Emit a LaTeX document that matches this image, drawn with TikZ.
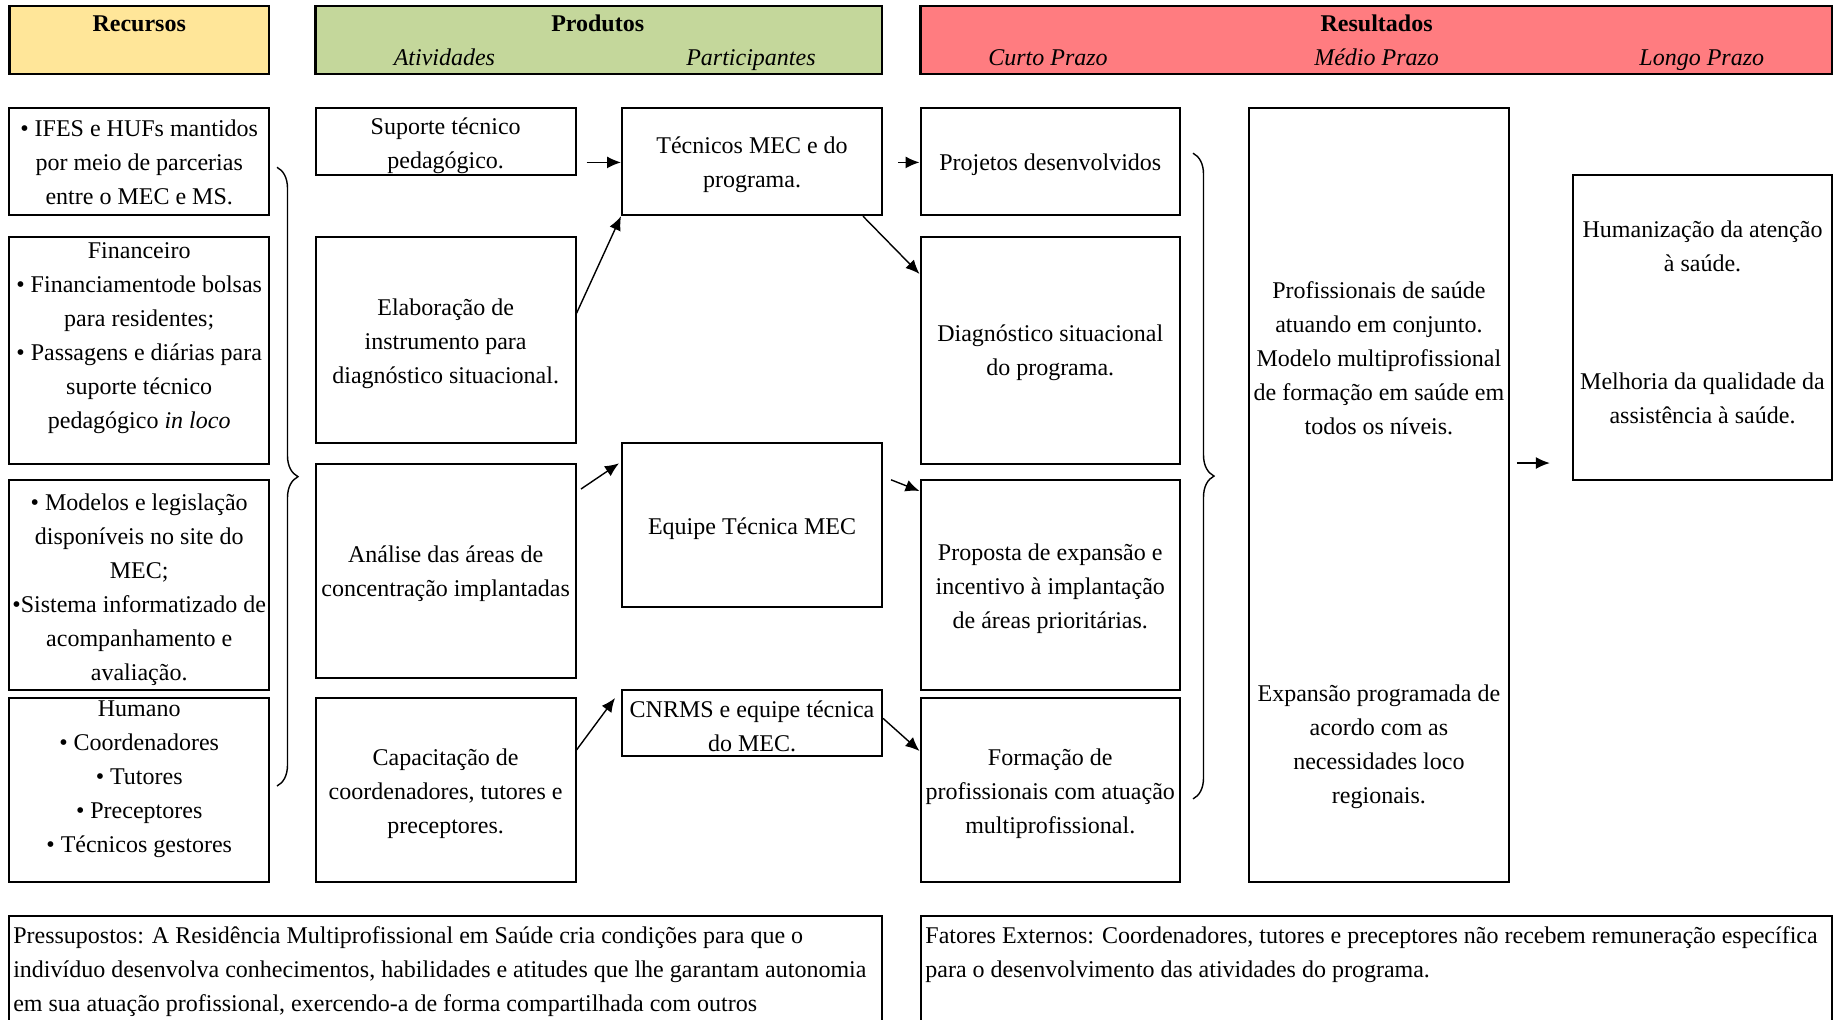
\documentclass[tikz,border=0pt]{standalone}
\usepackage{fontspec}
\setmainfont{Liberation Serif}
\usetikzlibrary{arrows.meta,decorations.pathreplacing,calc}
\definecolor{hdrYellow}{RGB}{255,230,153}
\definecolor{hdrGreen}{RGB}{196,215,155}
\definecolor{hdrRed}{RGB}{255,124,128}
\begin{document}
\begin{tikzpicture}[x=0.5pt,y=-0.5pt,
  fnt/.style={font=\fontsize{12}{17}\selectfont},
  box/.style={draw, line width=1pt, inner sep=0pt},
  hdr/.style={draw, line width=1.4pt},
  txt/.style={fnt, inner sep=0pt, align=center},
  btxt/.style={txt, yshift=-1.15pt},
  htxt/.style={inner sep=0pt, anchor=base},
  wh/.style 2 args={minimum width={(#1)*0.5pt}, minimum height={(#2)*0.5pt}},
  arr/.style={line width=0.7pt, -{Latex[length=7pt,width=6pt]}},
  brc/.style={line width=0.7pt, decorate, decoration={brace, amplitude=10.5pt}}
]
\useasboundingbox (0,0) rectangle (1834,1019);
\clip (0,0) rectangle (1834,1019);
\fill[white] (0,0) rectangle (1834,1019);

% headers
\node[hdr, fill=hdrYellow, wh={259.6}{68}] (hRec) at (139.2,40) {};
\node[hdr, fill=hdrGreen, wh={566.2}{68}] (hProd) at (598.9,40) {};
\node[hdr, fill=hdrRed, wh={911.5}{68}] (hRes) at (1376.25,40) {};
\node[htxt, font=\fontsize{12}{17}\selectfont\bfseries] (tRec) at (139.2,31.5) {Recursos};
\node[htxt, font=\fontsize{12}{17}\selectfont\bfseries] (tProd) at (597.7,31.5) {Produtos};
\node[htxt, font=\fontsize{12}{17}\selectfont\itshape] (tAtiv) at (444.4,65.5) {Atividades};
\node[htxt, font=\fontsize{12}{17}\selectfont\itshape] (tPart) at (750.9,65.5) {Participantes};
\node[htxt, font=\fontsize{12}{17}\selectfont\bfseries] (tRes) at (1376.6,31.5) {Resultados};
\node[htxt, font=\fontsize{12}{17}\selectfont\itshape] (tCurto) at (1048,65.5) {Curto Prazo};
\node[htxt, font=\fontsize{12}{17}\selectfont\itshape] (tMedio) at (1376.6,65.5) {Médio Prazo};
\node[htxt, font=\fontsize{12}{17}\selectfont\itshape] (tLongo) at (1701.8,65.5) {Longo Prazo};

% Recursos
\node[box, wh={259.6}{107.6}] (r1) at (139.2,161.4) {};
\node[txt] (r1t) at (139.2,162.6) {• IFES e HUFs mantidos\\por meio de parcerias\\entre o MEC e MS.};
\node[box, wh={259.6}{226.9}] (r2) at (139.2,350.85) {};
\node[txt, anchor=north] (r2t) at ($(r2.north)+(0,5.9)$) {Financeiro\\• Financiamentode bolsas\\para residentes;\\• Passagens e diárias para\\suporte técnico\\pedagógico \textit{in loco}};
\node[box, wh={259.6}{210.5}] (r3) at (139.2,584.75) {};
\node[btxt] (r3t) at (139.2,587.1) {• Modelos e legislação\\disponíveis no site do\\MEC;\\•Sistema informatizado de\\acompanhamento e\\avaliação.};
\node[box, wh={259.6}{183.7}] (r4) at (139.2,790.05) {};
\node[txt, anchor=north] (r4t) at ($(r4.north)+(0,3.5)$) {Humano\\• Coordenadores\\• Tutores\\• Preceptores\\• Técnicos gestores};

% Atividades
\node[box, wh={259.7}{67.8}] (a1) at (445.65,141.5) {};
\node[btxt] (a1t) at (445.65,143.3) {Suporte técnico\\pedagógico.};
\node[box, wh={259.7}{205.9}] (a2) at (445.65,340.35) {};
\node[btxt] (a2t) at (445.65,341.5) {Elaboração de\\instrumento para\\diagnóstico situacional.};
\node[box, wh={259.7}{214.1}] (a3) at (445.65,571.35) {};
\node[btxt] (a3t) at (445.65,571.4) {Análise das áreas de\\concentração implantadas};
\node[box, wh={259.7}{183.7}] (a4) at (445.65,790.05) {};
\node[btxt] (a4t) at (445.65,791.2) {Capacitação de\\coordenadores, tutores e\\preceptores.};

% Participantes
\node[box, wh={260}{107.6}] (p1) at (752,161.4) {};
\node[btxt] (p1t) at (752,162) {Técnicos MEC e do\\programa.};
\node[box, wh={260}{163.7}] (p2) at (752,525.15) {};
\node[btxt] (p2t) at (752,526.3) {Equipe Técnica MEC};
\node[box, wh={260}{65.6}] (p3) at (752,722.8) {};
\node[txt] (p3t) at (752,726) {CNRMS e equipe técnica\\do MEC.};

% Curto prazo
\node[box, wh={259.5}{107.6}] (c1) at (1050.25,161.4) {};
\node[btxt] (c1t) at (1050.25,162.6) {Projetos desenvolvidos};
\node[box, wh={259.5}{226.9}] (c2) at (1050.25,350.85) {};
\node[btxt] (c2t) at (1050.25,350.3) {Diagnóstico situacional\\do programa.};
\node[box, wh={259.5}{210.5}] (c3) at (1050.25,584.75) {};
\node[btxt] (c3t) at (1050.25,586) {Proposta de expansão e\\incentivo à implantação\\de áreas prioritárias.};
\node[box, wh={259.5}{183.7}] (c4) at (1050.25,790.05) {};
\node[btxt] (c4t) at (1050.25,791.2) {Formação de\\profissionais com atuação\\multiprofissional.};

% Medio prazo
\node[box, wh={259.8}{774.3}] (m) at (1378.9,494.75) {};
\node[txt] (m1) at (1378.9,358.5) {Profissionais de saúde\\atuando em conjunto.\\Modelo multiprofissional\\de formação em saúde em\\todos os níveis.};
\node[txt] (m2) at (1378.9,746.7) {Expansão programada de\\acordo com as\\necessidades loco\\regionais.};

% Longo prazo
\node[box, wh={259}{304.1}] (l) at (1702.5,327.45) {};
\node[txt] (l1) at (1702.5,246.2) {Humanização da atenção\\à saúde.};
\node[txt] (l2) at (1702.5,398.2) {Melhoria da qualidade da\\assistência à saúde.};

% bottom
\node[box, wh={872.6}{228.4}] (pres) at (445.7,1030) {};
\node[txt, align=left, anchor=north west] (prest) at (12.9,926) {Pressupostos: A Residência Multiprofissional em Saúde cria condições para que o\\indivíduo desenvolva conhecimentos, habilidades e atitudes que lhe garantam autonomia\\em sua atuação profissional, exercendo-a de forma compartilhada com outros};
\node[box, wh={911.5}{228.4}] (fat) at (1376.25,1030) {};
\node[txt, align=left, anchor=north west] (fatt) at (925,926) {Fatores Externos: Coordenadores, tutores e preceptores não recebem remuneração específica\\para o desenvolvimento das atividades do programa.};

% arrows
\coordinate (a1o) at ($(a1.east |- p1.west)+(10,1)$);
\draw[arr] (a1o) -- (p1.west |- a1o);
\coordinate (a2o) at ($(a2.east)+(0,-27)$);
\draw[arr] (a2o) -- (p1.south west);
\coordinate (p1o) at ($(p1.east)+(15,1)$);
\draw[arr] (p1o) -- (c1.west |- p1o);
\coordinate (p1s) at ($(p1.south east)+(-20,0)$);
\coordinate (c2i) at ($(c2.north west)+(0,37.5)$);
\draw[arr] (p1s) -- (c2i);
\coordinate (a3o) at ($(a3.north east)+(4.5,25.7)$);
\coordinate (p2i) at ($(p2.north west)+(-2,21)$);
\draw[arr] (a3o) -- (p2i);
\coordinate (p2o) at ($(p2.north east)+(8,37.5)$);
\coordinate (c3i) at ($(c3.north west)+(0,12.5)$);
\draw[arr] (p2o) -- (c3i);
\coordinate (a4o) at ($(a4.north east)+(0,52.8)$);
\coordinate (p3i) at ($(p3.north west)+(-6,9)$);
\draw[arr] (a4o) -- (p3i);
\coordinate (p3o) at ($(p3.north east)+(0,29.3)$);
\coordinate (c4i) at ($(c4.north west)+(0,53.8)$);
\draw[arr] (p3o) -- (c4i);
\coordinate (mo) at ($(m.east)+(7,-31.75)$);
\coordinate (li) at ($(mo)+(33,0)$);
\draw[arr] (mo) -- (li);

% braces
\coordinate (b1t) at (277,167.3);
\coordinate (b1b) at (277,786);
\draw[brc] (b1t) -- (b1b);
\coordinate (b2t) at (1193,153.2);
\coordinate (b2b) at (1193,798.9);
\draw[brc] (b2t) -- (b2b);
\end{tikzpicture}
\end{document}
